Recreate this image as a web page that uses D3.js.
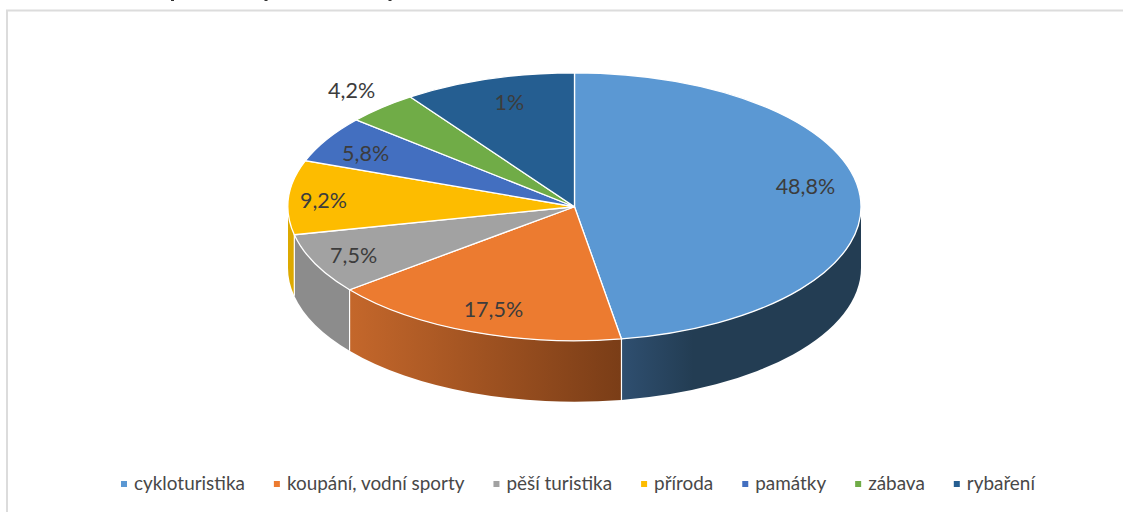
<!DOCTYPE html>
<html><head><meta charset="utf-8">
<script src="https://cdn.jsdelivr.net/npm/d3@7"></script>
<style>html,body{margin:0;background:#fff}svg{display:block}text{font-family:Lato,"Open Sans",sans-serif}</style>
</head><body><svg id="c" width="1123" height="512"></svg>
<script>
const categories = ["cykloturistika","koupání, vodní sporty","pěší turistika","příroda","památky","zábava","rybaření"];
const sliceValues = [48.8,17.5,7.5,9.2,5.8,4.2,10];
const sliceLabels = ["48,8%","17,5%","7,5%","9,2%","5,8%","4,2%","1%"];
const topColors = ["#5b98d3","#ec7b30","#a2a2a2","#fdbc00","#436fc0","#70ac47","#255e91"];
const wallColors = [["#2f4f70","#233d53"],["#c4672b","#7a3d17"],["#8c8c8c","#8c8c8c"],["#dca900","#dca900"]];
const labelUnitX = [.806,-.283,-.771,-.876,-.729,-.778,-.227];
const labelUnitY = [-.157,.764,.36,-.052,-.404,-.869,-.779];

const W=1123,H=512,cx=574.5,cy=206.75,rx=286.5,ry=134,depth=61;
const svg=d3.select("#c");
const px=d3.scaleLinear([-1,1],[cx-rx,cx+rx]);
const py=d3.scaleLinear([-1,1],[cy-ry,cy+ry]);

// frame + clipped fragments of the line above the chart
svg.append("path").attr("d",`M7,512V10.5H${W}`).attr("fill","none").attr("stroke","#dcdcdc").attr("stroke-width",2);
svg.append("g").selectAll("rect").data([171,264.5,388.5]).join("rect")
  .attr("x",d=>d).attr("y",0).attr("width",3).attr("height",1).attr("fill","#333");

const arcs=d3.pie().sort(null).value(d=>d)(sliceValues);
const defs=svg.append("defs");
wallColors.forEach((c,i)=>{
  const g=defs.append("linearGradient").attr("id","w"+i);
  g.append("stop").attr("offset",0).attr("stop-color",c[0]);
  g.append("stop").attr("offset",i===0?.3:1).attr("stop-color",c[1]);
});
const ex=t=>px(Math.sin(t)), ey=t=>py(-Math.cos(t));
const front=arcs.map((a,i)=>({i,t0:a.startAngle,t1:Math.min(a.endAngle,Math.PI*1.5)}))
  .filter(a=>a.t0<Math.PI*1.5);
const walls=svg.append("g");
walls.selectAll("path").data(front).join("path")
  .attr("d",a=>{
    const t0=Math.max(a.t0,Math.PI/2);
    return `M${ex(t0)},${ey(t0)}A${rx},${ry} 0 0 1 ${ex(a.t1)},${ey(a.t1)}`+
      `V${ey(a.t1)+depth}A${rx},${ry} 0 0 0 ${ex(t0)},${ey(t0)+depth}Z`;
  })
  .attr("fill",a=>`url(#w${a.i})`);
walls.selectAll("line").data(front.filter(a=>a.t1<Math.PI*1.5)).join("line")
  .attr("x1",a=>ex(a.t1)).attr("x2",a=>ex(a.t1))
  .attr("y1",a=>ey(a.t1)).attr("y2",a=>ey(a.t1)+depth)
  .attr("stroke","#fff").attr("stroke-width",1.2);

const arc=d3.arc().innerRadius(0).outerRadius(rx);
svg.append("g").attr("transform",`translate(${cx},${cy}) scale(1,${ry/rx})`)
  .selectAll("path").data(arcs).join("path")
  .attr("d",arc).attr("fill",(d,i)=>topColors[i])
  .attr("stroke","#fff").attr("stroke-width",1.3).attr("vector-effect","non-scaling-stroke");

svg.append("g").selectAll("text").data(sliceLabels).join("text")
  .attr("x",(d,i)=>px(labelUnitX[i])).attr("y",(d,i)=>py(labelUnitY[i]))
  .attr("text-anchor","middle").attr("dominant-baseline","central")
  .attr("font-size",21.5).attr("fill","#3c3c3c").text(d=>d);

// legend: flowed from the measured text widths
const gap=29, mark=6, markGap=7;
const lg=svg.append("g");
let x=121;
categories.forEach((c,i)=>{
  lg.append("rect").attr("x",x).attr("y",481).attr("width",mark).attr("height",mark).attr("fill",topColors[i]);
  const t=lg.append("text").attr("x",x+mark+markGap).attr("y",490).attr("font-size",18.9).attr("fill","#484848").text(c);
  x+=mark+markGap+t.node().getComputedTextLength()+gap;
});
</script></body></html>
